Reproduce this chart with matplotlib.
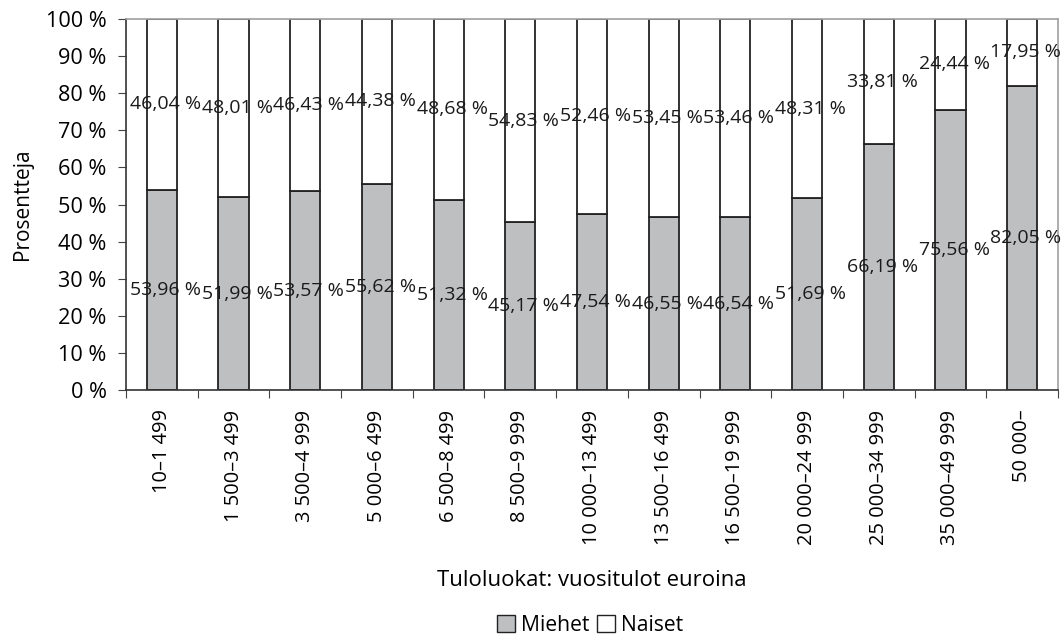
import matplotlib
matplotlib.use("Agg")
import matplotlib.pyplot as plt
import numpy as np
from matplotlib.patches import Patch

categories = ["10–1 499", "1 500–3 499", "3 500–4 999", "5 000–6 499", "6 500–8 499",
              "8 500–9 999", "10 000–13 499", "13 500–16 499", "16 500–19 999",
              "20 000–24 999", "25 000–34 999", "35 000–49 999", "50 000–"]
miehet = [53.96, 51.99, 53.57, 55.62, 51.32, 45.17, 47.54, 46.55, 46.54, 51.69, 66.19, 75.56, 82.05]
naiset = [46.04, 48.01, 46.43, 44.38, 48.68, 54.83, 52.46, 53.45, 53.46, 48.31, 33.81, 24.44, 17.95]
yticks = [0, 10, 20, 30, 40, 50, 60, 70, 80, 90, 100]

plt.rcParams['font.family'] = ['Open Sans', 'DejaVu Sans']

fig = plt.figure(figsize=(10.64, 6.35), dpi=100)
ax = fig.add_axes([0.1184, 0.3858, 0.9944 - 0.1184, 0.970 - 0.3858])

x = np.arange(len(categories))
gray = '#bebfc1'
w = 0.42
ax.bar(x, miehet, w, color=gray, edgecolor='#222222', linewidth=1.3, label='Miehet')
ax.bar(x, naiset, w, bottom=miehet, color='white', edgecolor='#222222', linewidth=1.3, label='Naiset')

def fmt(v):
    return f"{v:.2f}".replace('.', ',') + " %"

for i in range(len(categories)):
    ax.text(x[i] + 0.05, miehet[i] / 2, fmt(miehet[i]), ha='center', va='center', fontsize=14, color='#1a1a1a')
    ax.text(x[i] + 0.05, miehet[i] + naiset[i] / 2, fmt(naiset[i]), ha='center', va='center', fontsize=14, color='#1a1a1a')

ax.set_xlim(-0.5, len(categories) - 0.5)
ax.set_ylim(0, 100)
ax.set_yticks(yticks)
ax.set_yticklabels([f"{t} %" for t in yticks], fontsize=15.6)
ax.set_xticks(np.arange(len(categories) + 1) - 0.5, minor=False)
ax.set_xticklabels([])
ax.set_xticks(x, minor=True)
ax.set_xticklabels(categories, minor=True, rotation=90, fontsize=14.4, va='top')
ax.tick_params(axis='x', which='minor', length=0, pad=14)
ax.tick_params(axis='x', which='major', length=6, direction='out', color='#444444')
ax.tick_params(axis='y', length=6, direction='out', color='#444444', pad=8)

for s in ['top', 'right']:
    ax.spines[s].set_color('#a0a0a0')
    ax.spines[s].set_linewidth(1.2)
for s in ['left', 'bottom']:
    ax.spines[s].set_color('#333333')
    ax.spines[s].set_linewidth(1.2)

ax.set_ylabel('Prosentteja', fontsize=15, labelpad=9)
fig.text(0.556, 0.0866, 'Tuloluokat: vuositulot euroina', ha='center', va='center', fontsize=15.9)

handles = [Patch(facecolor=gray, edgecolor='#222222', label='Miehet'),
           Patch(facecolor='white', edgecolor='#222222', label='Naiset')]
fig.legend(handles=handles, loc='center', bbox_to_anchor=(0.5545, 0.0157), ncol=2, frameon=False,
           fontsize=15.2, handlelength=0.85, handleheight=0.85, handletextpad=0.25, columnspacing=0.4)

fig.savefig('out.png', dpi=100)
